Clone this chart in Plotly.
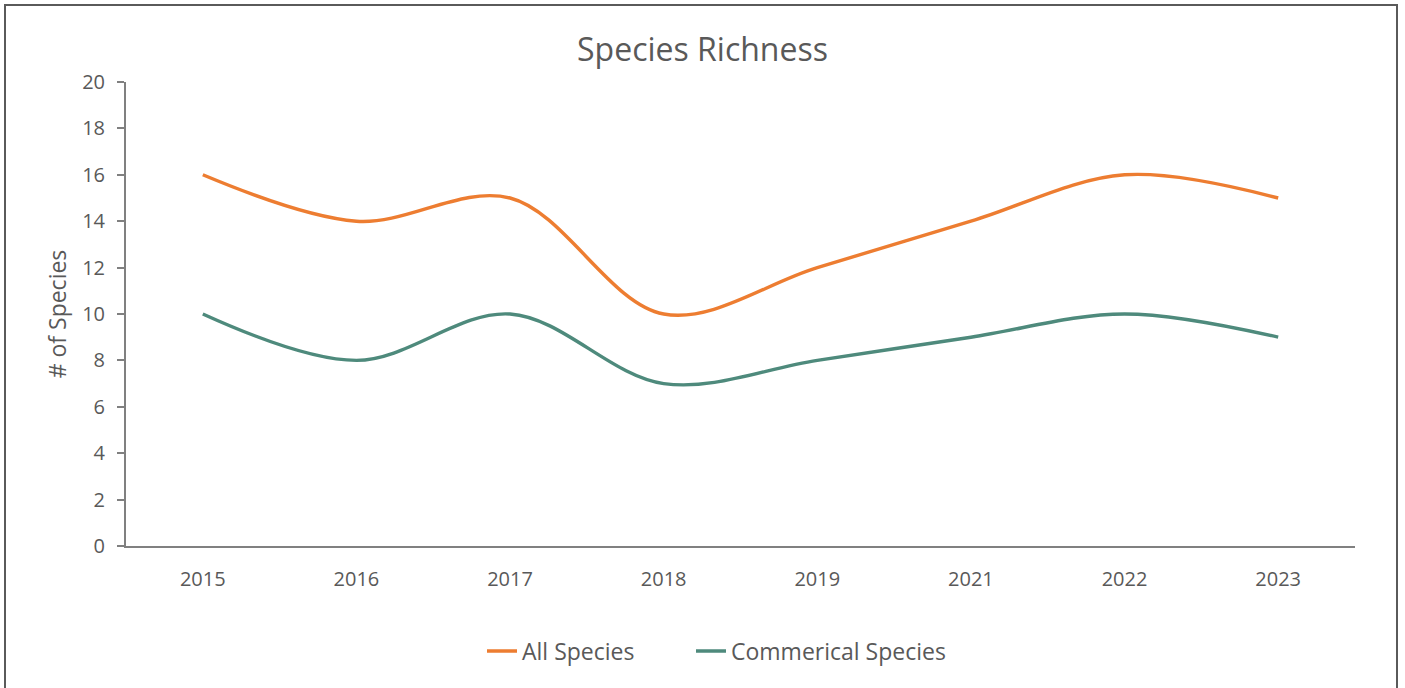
import plotly.graph_objects as go

years = ["2015", "2016", "2017", "2018", "2019", "2021", "2022", "2023"]
all_species = [16, 14, 15, 10, 12, 14, 16, 15]
commercial_species = [10, 8, 10, 7, 8, 9, 10, 9]
y_ticks = list(range(0, 21, 2))

W, H = 1405, 688
L, R, T, B = 126, 50, 82, 142
pw, ph = W - L - R, H - T - B

def px_to_paper_x(px):
    return (px - L) / pw

def px_to_paper_y(py):
    return (H - B - py) / ph

text_col = "#595959"
font = "Open Sans"

fig = go.Figure()
fig.add_trace(go.Scatter(
    x=years, y=all_species, name="All Species", mode="lines",
    line=dict(color="#ED7D31", width=3.4, shape="spline", smoothing=1.0),
    legend="legend",
))
fig.add_trace(go.Scatter(
    x=years, y=commercial_species, name="Commerical Species", mode="lines",
    line=dict(color="#4E8A7C", width=3.4, shape="spline", smoothing=1.0),
    legend="legend2",
))

# outer chart frame
fig.add_shape(
    type="rect", xref="paper", yref="paper",
    x0=px_to_paper_x(5), x1=px_to_paper_x(1397),
    y0=px_to_paper_y(700), y1=px_to_paper_y(5),
    line=dict(color="#5a5a5a", width=2), fillcolor="rgba(0,0,0,0)", layer="below",
)

legend_style = dict(orientation="h", yanchor="middle", xanchor="left",
                    y=px_to_paper_y(651), bgcolor="rgba(0,0,0,0)",
                    font=dict(family=font, size=23, color=text_col))

fig.update_layout(
    width=W, height=H,
    margin=dict(l=L, r=R, t=T, b=B),
    paper_bgcolor="white", plot_bgcolor="white",
    font=dict(family=font, color=text_col, size=20),
    title=dict(text="Species Richness", x=0.5, xanchor="center",
               y=1 - 50 / H, yanchor="middle",
               font=dict(family=font, size=32, color=text_col)),
    showlegend=True,
    legend=dict(x=px_to_paper_x(482), **legend_style),
    legend2=dict(x=px_to_paper_x(691), **legend_style),
    xaxis=dict(
        type="category", range=[-0.5, 7.5], showgrid=False,
        showline=True, linecolor="#808080", linewidth=2,
        ticks="", tickfont=dict(size=20, color=text_col),
        ticklabelstandoff=14,
    ),
    yaxis=dict(
        range=[0, 20], tickvals=y_ticks, showgrid=False,
        showline=True, linecolor="#808080", linewidth=2,
        ticks="outside", ticklen=7, tickcolor="#808080", tickwidth=2,
        tickfont=dict(size=20, color=text_col),
        ticklabelstandoff=8,
        zeroline=False,
        title=dict(text="# of Species", font=dict(size=23, color=text_col), standoff=9),
    ),
)

fig.write_html("out.html")
